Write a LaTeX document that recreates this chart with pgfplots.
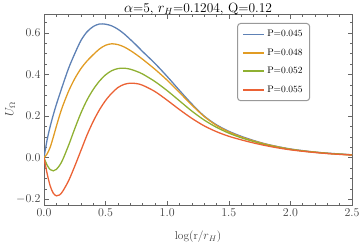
\documentclass[border=0pt]{standalone}
\usepackage{pgfplots}
\usepackage{pgfplotstable}
\pgfplotsset{compat=1.18}
\definecolor{cb}{HTML}{5E81B5}
\definecolor{co}{HTML}{E19C24}
\definecolor{cg}{HTML}{8FB032}
\definecolor{cr}{HTML}{EB6235}
\pgfplotstableread{
x b o g r
0 0 0 0 0
0.025 0.085 0.018 -0.035 -0.075
0.05 0.15 0.05 -0.057 -0.135
0.075 0.205 0.098 -0.063 -0.17
0.1 0.255 0.15 -0.056 -0.183
0.125 0.30 0.2 -0.038 -0.179
0.15 0.345 0.245 -0.012 -0.163
0.2 0.43 0.32 0.06 -0.11
0.25 0.50 0.38 0.14 -0.04
0.3 0.563 0.428 0.215 0.035
0.35 0.605 0.465 0.278 0.11
0.4 0.63 0.495 0.328 0.175
0.45 0.642 0.522 0.368 0.23
0.5 0.641 0.54 0.398 0.275
0.55 0.633 0.547 0.418 0.31
0.6 0.617 0.543 0.428 0.337
0.65 0.595 0.532 0.43 0.352
0.7 0.568 0.515 0.425 0.358
0.75 0.54 0.495 0.415 0.356
0.8 0.51 0.473 0.402 0.348
0.9 0.453 0.425 0.366 0.318
1.0 0.39 0.372 0.322 0.276
1.1 0.323 0.313 0.273 0.231
1.2 0.258 0.253 0.224 0.189
1.3 0.2 0.198 0.181 0.153
1.4 0.158 0.155 0.146 0.125
1.5 0.127 0.124 0.118 0.103
1.6 0.103 0.1 0.096 0.086
1.7 0.083 0.081 0.078 0.071
1.8 0.066 0.065 0.062 0.058
1.9 0.053 0.052 0.05 0.047
2.0 0.042 0.041 0.04 0.038
2.1 0.034 0.033 0.032 0.031
2.2 0.027 0.027 0.026 0.025
2.3 0.022 0.021 0.021 0.02
2.4 0.018 0.017 0.017 0.016
2.5 0.014 0.014 0.013 0.013
}\data
\begin{document}
\begin{tikzpicture}
\begin{axis}[
  name=ax,
  scale only axis,
  width=308bp, height=191bp,
  xmin=0, xmax=2.5, ymin=-0.227, ymax=0.69,
  xtick={0,0.5,1,1.5,2,2.5},
  ytick={-0.2,0,0.2,0.4,0.6},
  minor xtick={0.1,0.2,...,2.4},
  minor ytick={-0.15,-0.1,-0.05,0.05,0.1,0.15,0.25,0.3,0.35,0.45,0.5,0.55,0.65},
  tick align=inside,
  major tick length=4.5bp, minor tick length=2.5bp,
  tick style={black!60, line width=0.5pt},
  axis line style={black!60, line width=0.6pt},
  xticklabel style={/pgf/number format/.cd, fixed, fixed zerofill, precision=1},
  yticklabel style={/pgf/number format/.cd, fixed, fixed zerofill, precision=1},
  tick label style={font=\fontsize{11.5}{12}\selectfont, text=black!75},
  every axis title shift=0pt,
  title style={font=\fontsize{13.5}{15}\selectfont, at={(axis description cs:0.5,1)}, anchor=base, yshift=2bp},
  title={$\alpha$=5, $r_H$=0.1204, Q=0.12},
  xlabel={log(r/$r_H$)},
  ylabel={$U_\Omega$},
  label style={font=\fontsize{11.5}{12}\selectfont, text=black!75},
  xlabel style={at={(axis description cs:0.5,-0.168)}, anchor=center},
  ylabel style={at={(axis description cs:-0.11,0.5)}, anchor=center},
  legend style={at={(axis description cs:0.627,0.953)}, anchor=north west,
    draw=black!40, rounded corners=3pt, line width=1pt,
    font=\fontsize{9.5}{10}\selectfont, inner xsep=5pt, inner ysep=5pt,
    /tikz/every even column/.append style={column sep=2pt},
    row sep=6.5pt},
  legend cell align=left,
  legend image code/.code={\draw[#1, line width=1.7pt] (0cm,0cm) -- (21bp,0cm);},
  every axis plot/.append style={line width=1.3pt, smooth, tension=0.5},
]
\addplot[cb] table[x=x,y=b]{\data};
\addplot[co] table[x=x,y=o]{\data};
\addplot[cg] table[x=x,y=g]{\data};
\addplot[cr] table[x=x,y=r]{\data};
\legend{P=0.045,P=0.048,P=0.052,P=0.055}
\end{axis}
\pgfresetboundingbox
\path[use as bounding box] (ax.south west) ++(-44bp,-45bp) rectangle ++(360bp,250bp);
\end{tikzpicture}
\end{document}
